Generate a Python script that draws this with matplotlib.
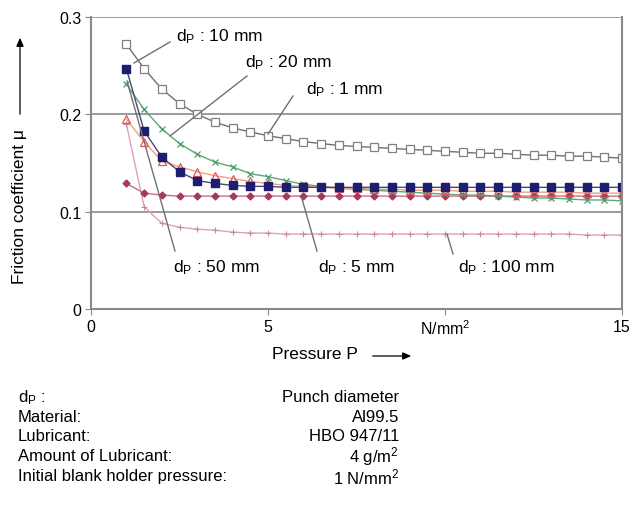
import matplotlib
matplotlib.use('Agg')
import matplotlib.pyplot as plt
import numpy as np

plt.rcParams['font.family'] = ['Liberation Sans', 'DejaVu Sans']
plt.rcParams['mathtext.fontset'] = 'custom'
plt.rcParams['mathtext.rm'] = 'Liberation Sans'
plt.rcParams['mathtext.it'] = 'Liberation Sans'

# pressure points (N/mm^2)
pressure = np.arange(1, 15.01, 0.5)

# friction coefficient per curve
mu_open_sq = [0.272, 0.247, 0.226, 0.211, 0.200, 0.192, 0.186, 0.182, 0.178, 0.175,
              0.172, 0.170, 0.168, 0.167, 0.166, 0.165, 0.164, 0.163, 0.162, 0.161,
              0.160, 0.160, 0.159, 0.158, 0.158, 0.157, 0.157, 0.156, 0.155]
mu_navy_sq = [0.247, 0.183, 0.156, 0.141, 0.132, 0.129, 0.127, 0.126, 0.126, 0.125,
              0.125, 0.125, 0.125, 0.125, 0.125, 0.125, 0.125, 0.125, 0.125, 0.125,
              0.125, 0.125, 0.125, 0.125, 0.125, 0.125, 0.125, 0.125, 0.125]
mu_cross = [0.231, 0.205, 0.185, 0.170, 0.159, 0.151, 0.146, 0.139, 0.136, 0.132,
            0.128, 0.126, 0.124, 0.123, 0.122, 0.121, 0.120, 0.119, 0.118, 0.117,
            0.117, 0.116, 0.115, 0.114, 0.114, 0.113, 0.112, 0.112, 0.111]
mu_triangle = [0.195, 0.172, 0.152, 0.146, 0.141, 0.137, 0.134, 0.131, 0.129, 0.127,
               0.126, 0.125, 0.124, 0.124, 0.123, 0.123, 0.122, 0.122, 0.122, 0.121,
               0.121, 0.121, 0.120, 0.120, 0.120, 0.120, 0.119, 0.119, 0.119]
mu_diamond = [0.129, 0.119, 0.117, 0.116, 0.116, 0.116, 0.116, 0.116, 0.116, 0.116,
              0.116, 0.116, 0.116, 0.116, 0.116, 0.116, 0.116, 0.116, 0.116, 0.116,
              0.116, 0.116, 0.116, 0.116, 0.116, 0.116, 0.116, 0.116, 0.116]
mu_plus = [0.190, 0.105, 0.088, 0.084, 0.082, 0.081, 0.079, 0.078, 0.078, 0.077,
           0.077, 0.077, 0.077, 0.077, 0.077, 0.077, 0.077, 0.077, 0.077, 0.077,
           0.077, 0.077, 0.077, 0.077, 0.077, 0.077, 0.076, 0.076, 0.076]

x_ticks = [0, 5, 10, 15]
x_ticklabels = ['0', '5', 'N/mm$^2$', '15']
y_ticks = [0, 0.1, 0.2, 0.3]
y_ticklabels = ['0', '0.1', '0.2', '0.3']

curve_labels = ['d$_\\mathrm{P}$ : 10 mm', 'd$_\\mathrm{P}$ : 20 mm', 'd$_\\mathrm{P}$ : 1 mm',
                'd$_\\mathrm{P}$ : 50 mm', 'd$_\\mathrm{P}$ : 5 mm', 'd$_\\mathrm{P}$ : 100 mm']

info_left = ['d$_\\mathrm{P}$ :', 'Material:', 'Lubricant:', 'Amount of Lubricant:',
             'Initial blank holder pressure:']
info_right = ['Punch diameter', 'Al99.5', 'HBO 947/11', '4 g/m$^2$', '1 N/mm$^2$']

W, H = 643, 510
fig = plt.figure(figsize=(W / 100, H / 100), dpi=100, facecolor='white')
ax = fig.add_axes([91 / W, 1 - 310 / H, (622 - 91) / W, (310 - 18) / H])


def px(x, y):
    # pixel -> data
    return ((x - 91) / 531 * 15, (310 - y) / 292 * 0.3)


ax.plot(pressure, mu_plus, color='#dca0bc', lw=1, marker='+', ms=5, mew=0.8, mec='#c888a8')
ax.plot(pressure, mu_diamond, color='#cc6b86', lw=1, marker='D', ms=3.5, mfc='#a8385a', mec='#a8385a')
ax.plot(pressure, mu_cross, color='#5aa878', lw=1, marker='x', ms=4.5, mew=0.9, mec='#4c9a6a')
ax.plot(pressure, mu_triangle, color='#f0a080', lw=1, marker='^', ms=5.5, mfc='none', mec='#e05858', mew=0.9)
ax.plot(pressure, mu_navy_sq, color='#4a4a70', lw=1, marker='s', ms=5.5, mfc='#1e1e6e', mec='#1e1e6e')
ax.plot(pressure, mu_open_sq, color='#707070', lw=1, marker='s', ms=5.5, mfc='white', mec='#808080', mew=0.9)

ax.set_xlim(0, 15)
ax.set_ylim(0, 0.3)
for y in [0.1, 0.2, 0.3]:
    ax.axhline(y, color='#8a8a8a', lw=1.2, zorder=0)
for s in ['left', 'bottom', 'right']:
    ax.spines[s].set_color('#8a8a8a')
    ax.spines[s].set_linewidth(1.5)
ax.spines['top'].set_visible(False)
ax.set_xticks(x_ticks)
ax.set_xticklabels(x_ticklabels)
ax.set_yticks(y_ticks)
ax.set_yticklabels(y_ticklabels)
ax.tick_params(direction='out', length=4, color='#8a8a8a', labelsize=11.5, pad=3)

# curve annotations with leader lines
text_px = [(176, 37), (245, 63), (306, 90), (173, 268), (318, 268), (458, 268)]
end_px = [(134, 64), (170, 137), (268, 135), (127, 82), (302, 200), (447, 235)]
start_px = [(170, 43), (247, 77), (293, 97), (175, 252), (317, 252), (453, 255)]
for lab, tp, sp, ep in zip(curve_labels, text_px, start_px, end_px):
    ax.text(*px(*tp), lab, fontsize=12.5, ha='left', va='center')
    ax.plot(*zip(px(*sp), px(*ep)), color='#707070', lw=1)

# axis labels with arrows
arrow_style = '-|>,head_length=0.5,head_width=0.22'
fig.text(20 / W, 1 - 207 / H, 'Friction coefficient μ', rotation=90, fontsize=12.5,
         ha='center', va='center')
fig.add_artist(matplotlib.patches.FancyArrowPatch(
    (20 / W, 1 - 118 / H), (20 / W, 1 - 36 / H), transform=fig.transFigure,
    arrowstyle=arrow_style, mutation_scale=10, color='black', lw=0.9))
fig.text(315 / W, 1 - 355 / H, 'Pressure P', fontsize=12.5, ha='center', va='center')
fig.add_artist(matplotlib.patches.FancyArrowPatch(
    (370 / W, 1 - 357 / H), (414 / W, 1 - 357 / H), transform=fig.transFigure,
    arrowstyle=arrow_style, mutation_scale=10, color='black', lw=0.9))

# info block
line_y = [398, 418, 437, 457, 477]
for yl, lt, rt in zip(line_y, info_left, info_right):
    fig.text(18 / W, 1 - yl / H, lt, fontsize=12, ha='left', va='center')
    fig.text(399 / W, 1 - yl / H, rt, fontsize=12, ha='right', va='center')

fig.savefig('out.png', dpi=100, facecolor='white')
